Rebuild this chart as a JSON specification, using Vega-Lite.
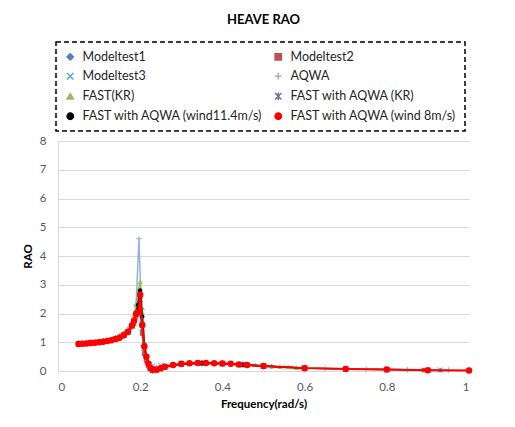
{
  "$schema": "https://vega.github.io/schema/vega-lite/v6.json",
  "width": 411,
  "height": 230,
  "padding": {"left": 22, "top": 14, "right": 5, "bottom": 5},
  "background": "white",
  "title": {"text": "HEAVE RAO", "fontSize": 13, "fontWeight": "bold", "font": "Lato", "color": "#000000", "anchor": "middle", "offset": 14},
  "config": {
    "font": "Lato",
    "view": {"stroke": null},
    "axis": {"labelFont": "Lato", "labelFontSize": 11.5, "labelColor": "#595959", "titleFont": "Lato", "titleFontSize": 11.5, "titleFontWeight": "bold", "titleColor": "#000000", "ticks": false, "domainColor": "#D9D9D9", "gridColor": "#D9D9D9"},
    "legend": {"labelFont": "Lato", "labelFontSize": 12.5, "labelColor": "#262626", "labelLimit": 300}
  },
  "data": {"values": [
    {"s":"FAST with AQWA (wind 8m/s)","f":0.05,"r":0.94},{"s":"FAST with AQWA (wind 8m/s)","f":0.06,"r":0.95},{"s":"FAST with AQWA (wind 8m/s)","f":0.07,"r":0.96},{"s":"FAST with AQWA (wind 8m/s)","f":0.08,"r":0.97},{"s":"FAST with AQWA (wind 8m/s)","f":0.09,"r":0.98},{"s":"FAST with AQWA (wind 8m/s)","f":0.10,"r":1.00},{"s":"FAST with AQWA (wind 8m/s)","f":0.11,"r":1.02},{"s":"FAST with AQWA (wind 8m/s)","f":0.12,"r":1.04},{"s":"FAST with AQWA (wind 8m/s)","f":0.13,"r":1.07},{"s":"FAST with AQWA (wind 8m/s)","f":0.14,"r":1.11},{"s":"FAST with AQWA (wind 8m/s)","f":0.15,"r":1.16},{"s":"FAST with AQWA (wind 8m/s)","f":0.16,"r":1.24},{"s":"FAST with AQWA (wind 8m/s)","f":0.17,"r":1.36},{"s":"FAST with AQWA (wind 8m/s)","f":0.18,"r":1.58},{"s":"FAST with AQWA (wind 8m/s)","f":0.185,"r":1.75},{"s":"FAST with AQWA (wind 8m/s)","f":0.19,"r":1.98},{"s":"FAST with AQWA (wind 8m/s)","f":0.195,"r":2.05},{"s":"FAST with AQWA (wind 8m/s)","f":0.2,"r":2.65},{"s":"FAST with AQWA (wind 8m/s)","f":0.205,"r":1.6},{"s":"FAST with AQWA (wind 8m/s)","f":0.21,"r":0.85},{"s":"FAST with AQWA (wind 8m/s)","f":0.215,"r":0.5},{"s":"FAST with AQWA (wind 8m/s)","f":0.22,"r":0.25},{"s":"FAST with AQWA (wind 8m/s)","f":0.225,"r":0.1},{"s":"FAST with AQWA (wind 8m/s)","f":0.23,"r":0.04},{"s":"FAST with AQWA (wind 8m/s)","f":0.24,"r":0.05},{"s":"FAST with AQWA (wind 8m/s)","f":0.25,"r":0.1},{"s":"FAST with AQWA (wind 8m/s)","f":0.26,"r":0.15},{"s":"FAST with AQWA (wind 8m/s)","f":0.28,"r":0.21},{"s":"FAST with AQWA (wind 8m/s)","f":0.3,"r":0.25},{"s":"FAST with AQWA (wind 8m/s)","f":0.32,"r":0.27},{"s":"FAST with AQWA (wind 8m/s)","f":0.34,"r":0.28},{"s":"FAST with AQWA (wind 8m/s)","f":0.36,"r":0.28},{"s":"FAST with AQWA (wind 8m/s)","f":0.38,"r":0.27},{"s":"FAST with AQWA (wind 8m/s)","f":0.4,"r":0.26},{"s":"FAST with AQWA (wind 8m/s)","f":0.42,"r":0.25},{"s":"FAST with AQWA (wind 8m/s)","f":0.44,"r":0.23},{"s":"FAST with AQWA (wind 8m/s)","f":0.46,"r":0.21},{"s":"FAST with AQWA (wind 8m/s)","f":0.5,"r":0.17},{"s":"FAST with AQWA (wind 8m/s)","f":0.6,"r":0.1},{"s":"FAST with AQWA (wind 8m/s)","f":0.7,"r":0.07},{"s":"FAST with AQWA (wind 8m/s)","f":0.8,"r":0.05},{"s":"FAST with AQWA (wind 8m/s)","f":0.9,"r":0.03},{"s":"FAST with AQWA (wind 8m/s)","f":1.0,"r":0.02},

    {"s":"FAST with AQWA (wind11.4m/s)","f":0.05,"r":0.95},{"s":"FAST with AQWA (wind11.4m/s)","f":0.07,"r":0.97},{"s":"FAST with AQWA (wind11.4m/s)","f":0.09,"r":0.99},{"s":"FAST with AQWA (wind11.4m/s)","f":0.11,"r":1.03},{"s":"FAST with AQWA (wind11.4m/s)","f":0.13,"r":1.08},{"s":"FAST with AQWA (wind11.4m/s)","f":0.15,"r":1.18},{"s":"FAST with AQWA (wind11.4m/s)","f":0.17,"r":1.38},{"s":"FAST with AQWA (wind11.4m/s)","f":0.18,"r":1.6},{"s":"FAST with AQWA (wind11.4m/s)","f":0.19,"r":2.0},{"s":"FAST with AQWA (wind11.4m/s)","f":0.195,"r":2.3},{"s":"FAST with AQWA (wind11.4m/s)","f":0.2,"r":2.8},{"s":"FAST with AQWA (wind11.4m/s)","f":0.205,"r":1.9},{"s":"FAST with AQWA (wind11.4m/s)","f":0.21,"r":0.9},{"s":"FAST with AQWA (wind11.4m/s)","f":0.215,"r":0.5},{"s":"FAST with AQWA (wind11.4m/s)","f":0.22,"r":0.28},{"s":"FAST with AQWA (wind11.4m/s)","f":0.225,"r":0.12},{"s":"FAST with AQWA (wind11.4m/s)","f":0.23,"r":0.06},{"s":"FAST with AQWA (wind11.4m/s)","f":0.24,"r":0.06},{"s":"FAST with AQWA (wind11.4m/s)","f":0.26,"r":0.15},{"s":"FAST with AQWA (wind11.4m/s)","f":0.3,"r":0.25},{"s":"FAST with AQWA (wind11.4m/s)","f":0.35,"r":0.28},{"s":"FAST with AQWA (wind11.4m/s)","f":0.4,"r":0.26},{"s":"FAST with AQWA (wind11.4m/s)","f":0.45,"r":0.22},{"s":"FAST with AQWA (wind11.4m/s)","f":0.5,"r":0.17},{"s":"FAST with AQWA (wind11.4m/s)","f":0.6,"r":0.1},

    {"s":"FAST with AQWA (KR)","f":0.05,"r":0.95},{"s":"FAST with AQWA (KR)","f":0.08,"r":0.98},{"s":"FAST with AQWA (KR)","f":0.11,"r":1.03},{"s":"FAST with AQWA (KR)","f":0.14,"r":1.12},{"s":"FAST with AQWA (KR)","f":0.16,"r":1.25},{"s":"FAST with AQWA (KR)","f":0.18,"r":1.58},{"s":"FAST with AQWA (KR)","f":0.19,"r":2.0},{"s":"FAST with AQWA (KR)","f":0.195,"r":2.2},{"s":"FAST with AQWA (KR)","f":0.2,"r":2.5},{"s":"FAST with AQWA (KR)","f":0.205,"r":1.5},{"s":"FAST with AQWA (KR)","f":0.21,"r":0.8},{"s":"FAST with AQWA (KR)","f":0.215,"r":0.45},{"s":"FAST with AQWA (KR)","f":0.22,"r":0.2},{"s":"FAST with AQWA (KR)","f":0.225,"r":0.08},{"s":"FAST with AQWA (KR)","f":0.23,"r":0.02},{"s":"FAST with AQWA (KR)","f":0.24,"r":0.04},{"s":"FAST with AQWA (KR)","f":0.26,"r":0.14},{"s":"FAST with AQWA (KR)","f":0.3,"r":0.24},{"s":"FAST with AQWA (KR)","f":0.35,"r":0.27},{"s":"FAST with AQWA (KR)","f":0.4,"r":0.26},{"s":"FAST with AQWA (KR)","f":0.45,"r":0.22},{"s":"FAST with AQWA (KR)","f":0.5,"r":0.17},{"s":"FAST with AQWA (KR)","f":0.6,"r":0.1},

    {"s":"FAST(KR)","f":0.05,"r":0.97},{"s":"FAST(KR)","f":0.06,"r":0.98},{"s":"FAST(KR)","f":0.07,"r":0.99},{"s":"FAST(KR)","f":0.08,"r":1.0},{"s":"FAST(KR)","f":0.09,"r":1.02},{"s":"FAST(KR)","f":0.10,"r":1.04},{"s":"FAST(KR)","f":0.11,"r":1.06},{"s":"FAST(KR)","f":0.12,"r":1.09},{"s":"FAST(KR)","f":0.13,"r":1.13},{"s":"FAST(KR)","f":0.14,"r":1.18},{"s":"FAST(KR)","f":0.15,"r":1.25},{"s":"FAST(KR)","f":0.16,"r":1.34},{"s":"FAST(KR)","f":0.17,"r":1.48},{"s":"FAST(KR)","f":0.18,"r":1.72},{"s":"FAST(KR)","f":0.185,"r":1.95},{"s":"FAST(KR)","f":0.19,"r":2.3},{"s":"FAST(KR)","f":0.195,"r":2.8},{"s":"FAST(KR)","f":0.2,"r":3.1},{"s":"FAST(KR)","f":0.205,"r":2.2},{"s":"FAST(KR)","f":0.21,"r":1.0},{"s":"FAST(KR)","f":0.215,"r":0.5},{"s":"FAST(KR)","f":0.22,"r":0.25},{"s":"FAST(KR)","f":0.225,"r":0.1},{"s":"FAST(KR)","f":0.23,"r":0.02},{"s":"FAST(KR)","f":0.24,"r":0.0},{"s":"FAST(KR)","f":0.25,"r":0.06},{"s":"FAST(KR)","f":0.26,"r":0.12},{"s":"FAST(KR)","f":0.28,"r":0.2},{"s":"FAST(KR)","f":0.3,"r":0.25},{"s":"FAST(KR)","f":0.32,"r":0.27},{"s":"FAST(KR)","f":0.34,"r":0.28},{"s":"FAST(KR)","f":0.36,"r":0.28},{"s":"FAST(KR)","f":0.38,"r":0.28},{"s":"FAST(KR)","f":0.4,"r":0.27},{"s":"FAST(KR)","f":0.42,"r":0.26},{"s":"FAST(KR)","f":0.44,"r":0.25},{"s":"FAST(KR)","f":0.46,"r":0.23},{"s":"FAST(KR)","f":0.48,"r":0.21},{"s":"FAST(KR)","f":0.5,"r":0.19},{"s":"FAST(KR)","f":0.52,"r":0.17},{"s":"FAST(KR)","f":0.54,"r":0.15},{"s":"FAST(KR)","f":0.56,"r":0.14},{"s":"FAST(KR)","f":0.58,"r":0.12},{"s":"FAST(KR)","f":0.6,"r":0.11},{"s":"FAST(KR)","f":0.8,"r":0.05},

    {"s":"AQWA","f":0.05,"r":0.95},{"s":"AQWA","f":0.07,"r":0.97},{"s":"AQWA","f":0.09,"r":0.99},{"s":"AQWA","f":0.11,"r":1.02},{"s":"AQWA","f":0.13,"r":1.07},{"s":"AQWA","f":0.15,"r":1.16},{"s":"AQWA","f":0.17,"r":1.36},{"s":"AQWA","f":0.18,"r":1.55},{"s":"AQWA","f":0.185,"r":1.8},{"s":"AQWA","f":0.19,"r":2.3},{"s":"AQWA","f":0.197,"r":4.6},{"s":"AQWA","f":0.203,"r":2.0},{"s":"AQWA","f":0.21,"r":0.9},{"s":"AQWA","f":0.215,"r":0.5},{"s":"AQWA","f":0.22,"r":0.3},{"s":"AQWA","f":0.23,"r":0.15},{"s":"AQWA","f":0.24,"r":0.12},{"s":"AQWA","f":0.25,"r":0.14},{"s":"AQWA","f":0.27,"r":0.19},{"s":"AQWA","f":0.3,"r":0.24},{"s":"AQWA","f":0.35,"r":0.27},{"s":"AQWA","f":0.4,"r":0.26},{"s":"AQWA","f":0.45,"r":0.22},{"s":"AQWA","f":0.5,"r":0.17},{"s":"AQWA","f":0.55,"r":0.13},{"s":"AQWA","f":0.6,"r":0.1},{"s":"AQWA","f":0.65,"r":0.085},{"s":"AQWA","f":0.7,"r":0.07},{"s":"AQWA","f":0.75,"r":0.06},{"s":"AQWA","f":0.8,"r":0.05},{"s":"AQWA","f":0.85,"r":0.04},{"s":"AQWA","f":0.9,"r":0.035},{"s":"AQWA","f":0.95,"r":0.03},{"s":"AQWA","f":1.0,"r":0.02},

    {"s":"Modeltest1","f":0.05,"r":0.93},{"s":"Modeltest1","f":0.08,"r":0.96},{"s":"Modeltest1","f":0.1,"r":0.99},{"s":"Modeltest1","f":0.12,"r":1.03},{"s":"Modeltest1","f":0.14,"r":1.1},{"s":"Modeltest1","f":0.16,"r":1.22},{"s":"Modeltest1","f":0.175,"r":1.45},{"s":"Modeltest1","f":0.185,"r":1.7},{"s":"Modeltest1","f":0.19,"r":2.0},{"s":"Modeltest1","f":0.195,"r":2.5},{"s":"Modeltest1","f":0.2,"r":2.2},{"s":"Modeltest1","f":0.205,"r":1.4},{"s":"Modeltest1","f":0.21,"r":0.7},{"s":"Modeltest1","f":0.22,"r":0.25},{"s":"Modeltest1","f":0.23,"r":0.08},{"s":"Modeltest1","f":0.24,"r":0.05},{"s":"Modeltest1","f":0.26,"r":0.15},{"s":"Modeltest1","f":0.3,"r":0.24},{"s":"Modeltest1","f":0.35,"r":0.27},{"s":"Modeltest1","f":0.4,"r":0.25},{"s":"Modeltest1","f":0.45,"r":0.21},{"s":"Modeltest1","f":0.52,"r":0.16},{"s":"Modeltest1","f":0.6,"r":0.1},{"s":"Modeltest1","f":0.7,"r":0.07},{"s":"Modeltest1","f":0.8,"r":0.05},{"s":"Modeltest1","f":0.93,"r":0.03},

    {"s":"Modeltest2","f":0.05,"r":0.94},{"s":"Modeltest2","f":0.1,"r":1.0},{"s":"Modeltest2","f":0.14,"r":1.1},{"s":"Modeltest2","f":0.17,"r":1.35},{"s":"Modeltest2","f":0.185,"r":1.65},{"s":"Modeltest2","f":0.19,"r":1.9},{"s":"Modeltest2","f":0.195,"r":2.2},{"s":"Modeltest2","f":0.2,"r":2.0},{"s":"Modeltest2","f":0.205,"r":1.3},{"s":"Modeltest2","f":0.21,"r":0.6},{"s":"Modeltest2","f":0.215,"r":0.35},{"s":"Modeltest2","f":0.22,"r":0.2},{"s":"Modeltest2","f":0.23,"r":0.1},{"s":"Modeltest2","f":0.25,"r":0.12},{"s":"Modeltest2","f":0.3,"r":0.23},{"s":"Modeltest2","f":0.35,"r":0.26},{"s":"Modeltest2","f":0.4,"r":0.25},{"s":"Modeltest2","f":0.5,"r":0.16},{"s":"Modeltest2","f":0.6,"r":0.1},{"s":"Modeltest2","f":0.7,"r":0.07},{"s":"Modeltest2","f":0.8,"r":0.05},{"s":"Modeltest2","f":0.89,"r":0.03},

    {"s":"Modeltest3","f":0.06,"r":0.95},{"s":"Modeltest3","f":0.1,"r":1.0},{"s":"Modeltest3","f":0.14,"r":1.1},{"s":"Modeltest3","f":0.17,"r":1.35},{"s":"Modeltest3","f":0.18,"r":1.55},{"s":"Modeltest3","f":0.19,"r":1.85},{"s":"Modeltest3","f":0.195,"r":2.3},{"s":"Modeltest3","f":0.2,"r":2.45},{"s":"Modeltest3","f":0.205,"r":1.6},{"s":"Modeltest3","f":0.21,"r":0.9},{"s":"Modeltest3","f":0.215,"r":0.5},{"s":"Modeltest3","f":0.22,"r":0.25},{"s":"Modeltest3","f":0.23,"r":0.18},{"s":"Modeltest3","f":0.25,"r":0.2},{"s":"Modeltest3","f":0.3,"r":0.25},{"s":"Modeltest3","f":0.35,"r":0.27},{"s":"Modeltest3","f":0.4,"r":0.25},{"s":"Modeltest3","f":0.45,"r":0.22},{"s":"Modeltest3","f":0.5,"r":0.17},{"s":"Modeltest3","f":0.6,"r":0.1},{"s":"Modeltest3","f":0.7,"r":0.07},{"s":"Modeltest3","f":0.8,"r":0.05},{"s":"Modeltest3","f":0.93,"r":0.03}
  ]},
  "encoding": {
    "x": {"field": "f", "type": "quantitative", "title": "Frequency(rad/s)", "scale": {"domain": [0, 1], "nice": false}, "axis": {"values": [0, 0.2, 0.4, 0.6, 0.8, 1], "format": "~g", "grid": false, "labelPadding": 10, "titlePadding": 6}},
    "y": {"field": "r", "type": "quantitative", "title": "RAO", "scale": {"domain": [0, 8], "nice": false}, "axis": {"values": [0, 1, 2, 3, 4, 5, 6, 7, 8], "grid": true, "labelPadding": 12, "titlePadding": 6}},
    "color": {"field": "s", "type": "nominal", "title": null,
      "scale": {"domain": ["Modeltest1", "Modeltest2", "Modeltest3", "AQWA", "FAST(KR)", "FAST with AQWA (KR)", "FAST with AQWA (wind11.4m/s)", "FAST with AQWA (wind 8m/s)"],
                "range": ["#4F81BD", "#C0504D", "#4BACC6", "#95B3D7", "#9BBB59", "#8064A2", "#000000", "#FF0000"]},
      "legend": {"orient": "none", "legendX": -2, "legendY": -99, "direction": "horizontal", "columns": 2, "columnPadding": 9, "rowPadding": 5, "padding": 8, "strokeColor": "#000000", "symbolSize": 40, "symbolStrokeWidth": 1.5, "labelOffset": 6, "gridAlign": "all",
        "encode": {"legend": {"update": {"strokeDash": {"value": [5, 3]}, "strokeWidth": {"value": 1.5}}}, "symbols": {"update": {"stroke": {"scale": "color", "field": "value"}}}}}},
    "shape": {"field": "s", "type": "nominal", "title": null,
      "scale": {"domain": ["Modeltest1", "Modeltest2", "Modeltest3", "AQWA", "FAST(KR)", "FAST with AQWA (KR)", "FAST with AQWA (wind11.4m/s)", "FAST with AQWA (wind 8m/s)"],
                "range": ["diamond", "square", "M-1,-1L1,1M-1,1L1,-1", "M-1,0L1,0M0,-1L0,1", "triangle-up", "M-1,-1L1,1M-1,1L1,-1M0,-1.2L0,1.2", "circle", "circle"]}}
  },
  "layer": [
    {"transform": [{"filter": "datum.s === 'Modeltest3'"}], "mark": {"type": "point", "filled": false, "size": 30, "strokeWidth": 1.2}},
    {"transform": [{"filter": "datum.s === 'AQWA'"}], "mark": {"type": "line", "strokeWidth": 1.5, "point": {"filled": false, "size": 35, "strokeWidth": 1}}},
    {"transform": [{"filter": "datum.s === 'Modeltest1'"}], "mark": {"type": "line", "strokeWidth": 1.5, "point": {"filled": true, "size": 25}}},
    {"transform": [{"filter": "datum.s === 'Modeltest2'"}], "mark": {"type": "line", "strokeWidth": 1.5, "point": {"filled": true, "size": 20}}},
    {"transform": [{"filter": "datum.s === 'FAST(KR)'"}], "mark": {"type": "line", "strokeWidth": 1.5, "point": {"filled": true, "size": 30}}},
    {"transform": [{"filter": "datum.s === 'FAST with AQWA (KR)'"}], "mark": {"type": "line", "strokeWidth": 1.5, "point": {"filled": false, "size": 30, "strokeWidth": 1}}},
    {"transform": [{"filter": "datum.s === 'FAST with AQWA (wind11.4m/s)'"}], "mark": {"type": "line", "strokeWidth": 1.5, "point": {"filled": true, "size": 20}}},
    {"transform": [{"filter": "datum.s === 'FAST with AQWA (wind 8m/s)'"}], "mark": {"type": "line", "strokeWidth": 2, "point": {"filled": true, "size": 42}}}
  ]
}
